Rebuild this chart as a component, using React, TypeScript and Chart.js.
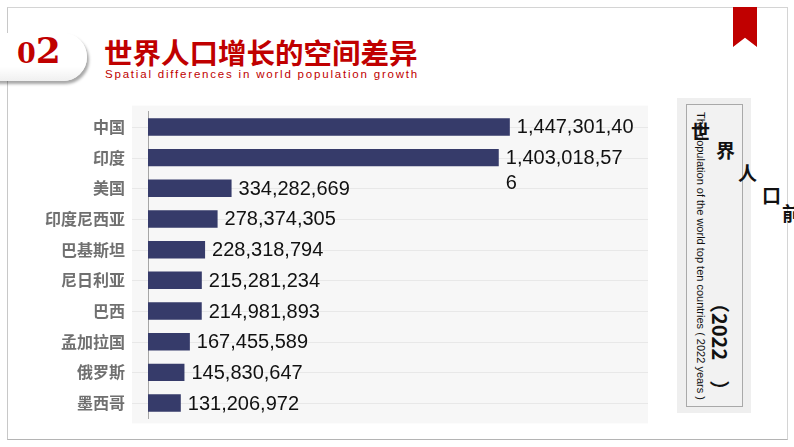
import React, { useEffect, useRef } from "react";
import { Chart, registerables } from "chart.js";

Chart.register(...registerables);

const countries = ["中国", "印度", "美国", "印度尼西亚", "巴基斯坦", "尼日利亚", "巴西", "孟加拉国", "俄罗斯", "墨西哥"];
const population = [1447301400, 1403018576, 334282669, 278374305, 228318794, 215281234, 214981893, 167455589, 145830647, 131206972];
const valueLabels = [
  ["1,447,301,40"],
  ["1,403,018,57", "6"],
  ["334,282,669"],
  ["278,374,305"],
  ["228,318,794"],
  ["215,281,234"],
  ["214,981,893"],
  ["167,455,589"],
  ["145,830,647"],
  ["131,206,972"],
];
const axisMax = 2000000000;

const titleCn = "世界人口增长的空间差异";
const titleEn = "Spatial differences in world population growth";
const sideEn = "The population of the world top ten countries ( 2022 years )";
const sideYear = "（2022　）";
const scatterChars = ["世", "界", "人", "口", "前"];

const RED = "#c00000";
const BAR = "#363b6a";

const decoPlugin = {
  id: "deco",
  beforeDraw(chart: any) {
    const { ctx, chartArea: a, scales } = chart;
    ctx.save();
    ctx.fillStyle = "#f7f7f7";
    ctx.fillRect(a.left - 16, a.top - 6, a.right - a.left + 16, a.bottom - a.top + 11);
    ctx.strokeStyle = "#e8e8e8";
    ctx.lineWidth = 1;
    const ys = scales.y;
    for (let i = 0; i < countries.length; i++) {
      const py = Math.round(ys.getPixelForValue(i)) + 0.5;
      ctx.beginPath();
      ctx.moveTo(a.left - 16, py);
      ctx.lineTo(a.right, py);
      ctx.stroke();
    }
    ctx.restore();
  },
  afterDatasetsDraw(chart: any) {
    const { ctx } = chart;
    const meta = chart.getDatasetMeta(0);
    ctx.save();
    ctx.font = '20px "Liberation Sans", Arial, sans-serif';
    ctx.fillStyle = "#111111";
    ctx.textBaseline = "middle";
    ctx.textAlign = "left";
    meta.data.forEach((bar: any, i: number) => {
      valueLabels[i].forEach((line, j) => {
        ctx.fillText(line, bar.x + 7, bar.y + 1 + j * 25);
      });
    });
    ctx.restore();
  },
};

function BarChart() {
  const ref = useRef<HTMLCanvasElement>(null);
  useEffect(() => {
    if (!ref.current) return;
    const chart = new Chart(ref.current, {
      type: "bar",
      data: {
        labels: countries,
        datasets: [
          {
            data: population,
            backgroundColor: BAR,
            borderWidth: 0,
            categoryPercentage: 1,
            barPercentage: 0.57,
          },
        ],
      },
      options: {
        indexAxis: "y",
        responsive: false,
        animation: false,
        devicePixelRatio: 1,
        layout: { padding: { top: 17, bottom: 18, right: 12, left: 0 } },
        plugins: { legend: { display: false }, tooltip: { enabled: false } },
        scales: {
          x: { display: false, min: 0, max: axisMax },
          y: {
            afterFit: (scale: any) => {
              scale.width = 148;
            },
            grid: { display: false, drawTicks: false },
            border: { display: true, color: "#a6a6a6", width: 1 },
            ticks: {
              padding: 23,
              color: "#707070",
              font: { family: '"Noto Sans CJK SC", sans-serif', size: 16, weight: "bold" },
            },
          },
        },
      },
      plugins: [decoPlugin],
    } as any);
    return () => chart.destroy();
  }, []);
  return <canvas ref={ref} width={660} height={372} style={{ position: "absolute", left: 0, top: 79 }} />;
}

export default function App() {
  const scatterPos = [
    [691, 121],
    [716, 140],
    [738, 163],
    [762, 185],
    [782, 203],
  ];
  return (
    <div style={{ position: "fixed", left: 0, top: 0, width: 794, height: 447, background: "#fff", overflow: "hidden" }}>
      {/* frame */}
      <div
        style={{
          position: "absolute",
          left: 7,
          top: 7,
          width: 779,
          height: 431,
          borderTop: "1px solid #d4d4d4",
          borderLeft: "1px solid #c8c8c8",
          borderRight: "1px solid #d4d4d4",
          borderBottom: "1px solid #b4b4b4",
        }}
      />
      {/* ribbon */}
      <div
        style={{
          position: "absolute",
          left: 733,
          top: 7,
          width: 24,
          height: 40,
          background: RED,
          clipPath: "polygon(0 0, 100% 0, 100% 100%, 50% 77%, 0 100%)",
        }}
      />
      {/* header tab */}
      <div
        style={{
          position: "absolute",
          left: -25,
          top: 33,
          width: 112,
          height: 48,
          borderRadius: 24,
          background: "linear-gradient(#ffffff 70%, #f0f0f0)",
          boxShadow: "2px 3px 3px rgba(0,0,0,0.35)",
        }}
      />
      <div
        style={{
          position: "absolute",
          left: 17,
          top: 30,
          height: 40,
          whiteSpace: "nowrap",
          color: RED,
          fontFamily: '"DejaVu Serif", serif',
          fontWeight: "bold",
          lineHeight: "40px",
        }}
      >
        <span style={{ fontSize: 27 }}>0</span>
        <span style={{ fontSize: 36 }}>2</span>
      </div>
      <div
        style={{
          position: "absolute",
          left: 104,
          top: 38,
          fontFamily: '"Noto Sans CJK SC", sans-serif',
          fontWeight: "bold",
          fontSize: 28.5,
          lineHeight: 1,
          color: RED,
          whiteSpace: "nowrap",
        }}
      >
        {titleCn}
      </div>
      <div
        style={{
          position: "absolute",
          left: 105,
          top: 67,
          fontFamily: '"Liberation Sans", Arial, sans-serif',
          fontSize: 11.5,
          letterSpacing: 1.8,
          lineHeight: "14px",
          color: RED,
          whiteSpace: "nowrap",
        }}
      >
        {titleEn}
      </div>
      <BarChart />
      {/* side panel */}
      <div style={{ position: "absolute", left: 677, top: 98, width: 74, height: 315, background: "#efefef" }} />
      <div
        style={{
          position: "absolute",
          left: 686,
          top: 104,
          width: 55,
          height: 301,
          border: "1px solid #a9a9a9",
          background: "#f2f2f2",
        }}
      />
      <div
        style={{
          position: "absolute",
          left: 707,
          top: 112,
          transformOrigin: "0 0",
          transform: "rotate(90deg)",
          fontFamily: '"Liberation Sans", Arial, sans-serif',
          fontSize: 11,
          lineHeight: "12px",
          color: "#111",
          whiteSpace: "nowrap",
        }}
      >
        {sideEn}
      </div>
      <div
        style={{
          position: "absolute",
          left: 731,
          top: 293,
          transformOrigin: "0 0",
          transform: "rotate(90deg)",
          fontFamily: '"Noto Sans CJK SC", sans-serif',
          fontWeight: "bold",
          fontSize: 20,
          lineHeight: "22px",
          color: "#111",
          whiteSpace: "nowrap",
        }}
      >
        {sideYear}
      </div>
      {scatterChars.map((c, i) => (
        <div
          key={i}
          style={{
            position: "absolute",
            left: scatterPos[i][0],
            top: scatterPos[i][1],
            fontFamily: '"Noto Sans CJK SC", sans-serif',
            fontWeight: "bold",
            fontSize: 19,
            lineHeight: 1,
            color: "#111",
          }}
        >
          {c}
        </div>
      ))}
    </div>
  );
}
